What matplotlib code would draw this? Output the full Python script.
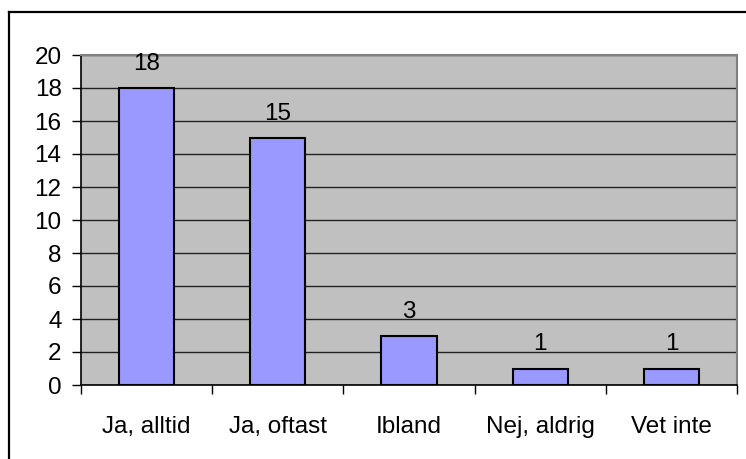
import matplotlib
matplotlib.use("Agg")
import matplotlib.pyplot as plt
from matplotlib.lines import Line2D

categories = ["Ja, alltid", "Ja, oftast", "Ibland", "Nej, aldrig", "Vet inte"]
values = [18, 15, 3, 1, 1]
yticks = [0, 2, 4, 6, 8, 10, 12, 14, 16, 18, 20]

plt.rcParams['font.family'] = ['Liberation Sans', 'DejaVu Sans']
fs = 17.5

fig = plt.figure(figsize=(7.46, 4.59), dpi=100)
ax = fig.add_axes([81/746, 1-385/459, (737-81)/746, (385-55)/459])
ax.set_facecolor('#C0C0C0')

x = list(range(len(categories)))
bars = ax.bar(x, values, width=0.42, color='#9999FF', edgecolor='black', linewidth=1.5, zorder=3)

ax.set_xlim(-0.5, len(categories) - 0.5)
ax.set_ylim(0, 20)
ax.set_yticks(yticks)
ax.set_yticklabels([str(t) for t in yticks], fontsize=fs)
ax.yaxis.grid(True, color='#222222', linewidth=1.0, zorder=1)
ax.set_axisbelow(True)

# category boundaries as major ticks, labels at centers via minor ticks
ax.set_xticks([i - 0.5 for i in range(len(categories) + 1)])
ax.set_xticklabels([])
ax.set_xticks(x, minor=True)
ax.set_xticklabels(categories, minor=True, fontsize=fs)
ax.tick_params(axis='x', which='major', length=6.5, width=1, direction='out')
ax.tick_params(axis='x', which='minor', length=0, pad=22.5)
ax.tick_params(axis='y', length=6.5, width=1, pad=7.5)

for side in ['left', 'bottom']:
    ax.spines[side].set_color('black')
    ax.spines[side].set_linewidth(1.2)
for side in ['top', 'right']:
    ax.spines[side].set_color('#808080')
    ax.spines[side].set_linewidth(1.5)

for xi, v in zip(x, values):
    ax.annotate(str(v), (xi, v), xytext=(0, 24), textcoords='offset pixels',
                ha='center', va='center', fontsize=fs, zorder=4)

# outer chart border (top and left visible)
fig.add_artist(Line2D([9/746, 1.0], [1-12/459, 1-12/459], color='black', linewidth=1.6,
                      transform=fig.transFigure))
fig.add_artist(Line2D([9/746, 9/746], [0.0, 1-12/459], color='black', linewidth=1.6,
                      transform=fig.transFigure))

fig.savefig("out.png", dpi=100)
